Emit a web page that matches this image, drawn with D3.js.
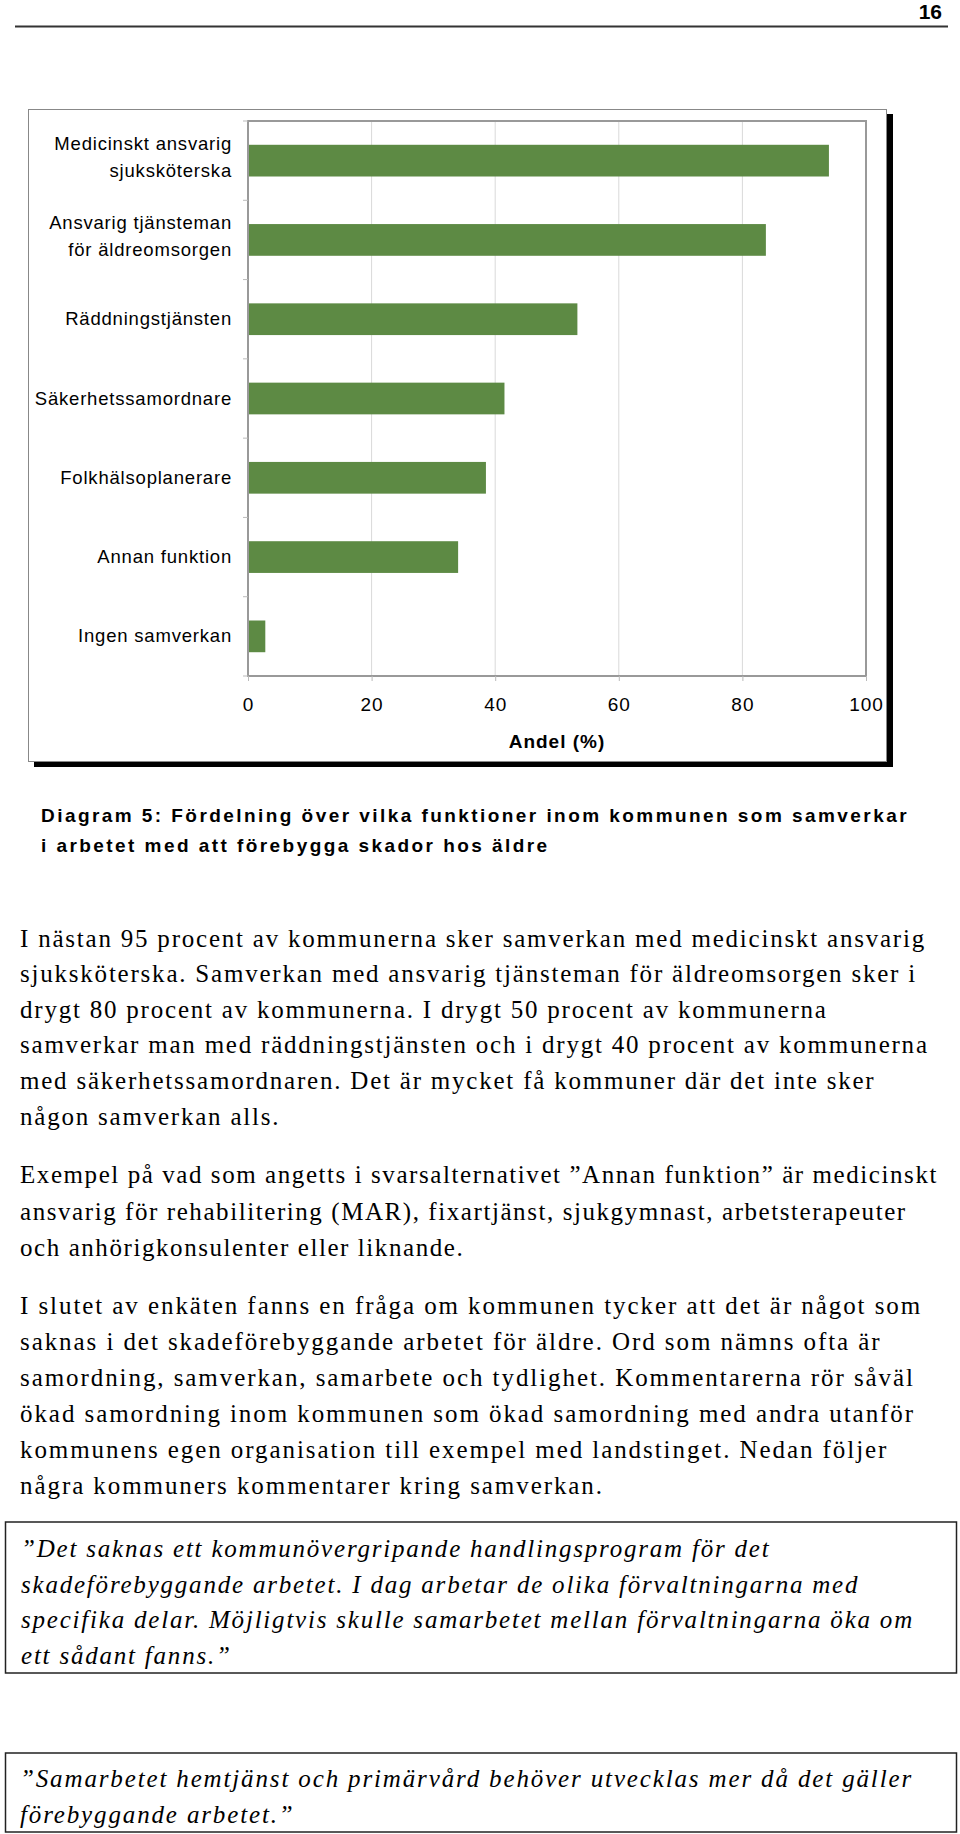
<!DOCTYPE html>
<html>
<head>
<meta charset="utf-8">
<script src="https://cdn.jsdelivr.net/npm/d3@7"></script>
<style>
  body { margin: 0; background: #fff; }
  svg { display: block; }
</style>
</head>
<body>
<svg id="page" width="960" height="1834"></svg>
<script>
// chart data
let categories = ['Medicinskt ansvarig sjuksköterska', 'Ansvarig tjänsteman för äldreomsorgen',
  'Räddningstjänsten', 'Säkerhetssamordnare', 'Folkhälsoplanerare', 'Annan funktion', 'Ingen samverkan']
let labelLines = [['Medicinskt ansvarig', 'sjuksköterska'], ['Ansvarig tjänsteman', 'för äldreomsorgen'],
  ['Räddningstjänsten'], ['Säkerhetssamordnare'], ['Folkhälsoplanerare'], ['Annan funktion'], ['Ingen samverkan']]
let values = [94.0, 83.8, 53.3, 41.5, 38.5, 34.0, 2.8]
let xTicks = [0, 20, 40, 60, 80, 100]
let xTitle = 'Andel (%)'

// page text
let pageNumber = '16'
let caption = ['Diagram 5: Fördelning över vilka funktioner inom kommunen som samverkar',
  'i arbetet med att förebygga skador hos äldre']
let para1 = ['I nästan 95 procent av kommunerna sker samverkan med medicinskt ansvarig',
  'sjuksköterska. Samverkan med ansvarig tjänsteman för äldreomsorgen sker i',
  'drygt 80 procent av kommunerna. I drygt 50 procent av kommunerna',
  'samverkar man med räddningstjänsten och i drygt 40 procent av kommunerna',
  'med säkerhetssamordnaren. Det är mycket få kommuner där det inte sker',
  'någon samverkan alls.']
let para2 = ['Exempel på vad som angetts i svarsalternativet ”Annan funktion” är medicinskt',
  'ansvarig för rehabilitering (MAR), fixartjänst, sjukgymnast, arbetsterapeuter',
  'och anhörigkonsulenter eller liknande.']
let para3 = ['I slutet av enkäten fanns en fråga om kommunen tycker att det är något som',
  'saknas i det skadeförebyggande arbetet för äldre. Ord som nämns ofta är',
  'samordning, samverkan, samarbete och tydlighet. Kommentarerna rör såväl',
  'ökad samordning inom kommunen som ökad samordning med andra utanför',
  'kommunens egen organisation till exempel med landstinget. Nedan följer',
  'några kommuners kommentarer kring samverkan.']
let quote1 = ['”Det saknas ett kommunövergripande handlingsprogram för det',
  'skadeförebyggande arbetet. I dag arbetar de olika förvaltningarna med',
  'specifika delar. Möjligtvis skulle samarbetet mellan förvaltningarna öka om',
  'ett sådant fanns.”']
let quote2 = ['”Samarbetet hemtjänst och primärvård behöver utvecklas mer då det gäller',
  'förebyggande arbetet.”']

let svg = d3.select('#page')
let sans = '"Liberation Sans", Arial, sans-serif'
let serif = '"Liberation Serif", "Times New Roman", serif'

// header
svg.append('text')
  .attr('x', 942).attr('y', 19)
  .attr('text-anchor', 'end')
  .style('font-family', sans).style('font-weight', 'bold').style('font-size', '21px')
  .text(pageNumber)
svg.append('line')
  .attr('x1', 15).attr('x2', 948).attr('y1', 26.5).attr('y2', 26.5)
  .attr('stroke', '#333').attr('stroke-width', 2)

// chart frame with shadow
svg.append('rect').attr('x', 34).attr('y', 114).attr('width', 859).attr('height', 653).attr('fill', '#000')
svg.append('rect').attr('x', 28.5).attr('y', 109.5).attr('width', 858).attr('height', 652)
  .attr('fill', '#fff').attr('stroke', '#888').attr('stroke-width', 1)

let plot = { left: 248, right: 866, top: 121, bottom: 676 }

let x = d3.scaleLinear().domain([0, 100]).range([plot.left, plot.right])
let y = d3.scaleBand().domain(categories).range([plot.top, plot.bottom])
  .paddingInner(0.6).paddingOuter(0.3)

// gridlines
svg.append('g')
  .selectAll('line')
  .data(xTicks.slice(1, -1))
  .enter()
  .append('line')
  .attr('x1', d => x(d)).attr('x2', d => x(d))
  .attr('y1', plot.top).attr('y2', plot.bottom)
  .attr('stroke', '#d9d9d9').attr('stroke-width', 1)

// bars
svg.append('g')
  .selectAll('rect')
  .data(values)
  .enter()
  .append('rect')
  .attr('x', x(0))
  .attr('y', (d, i) => y(categories[i]))
  .attr('width', d => x(d) - x(0))
  .attr('height', y.bandwidth())
  .attr('fill', '#5d8a44')

// plot border
svg.append('rect')
  .attr('x', plot.left).attr('y', plot.top)
  .attr('width', plot.right - plot.left).attr('height', plot.bottom - plot.top)
  .attr('fill', 'none').attr('stroke', '#999').attr('stroke-width', 2)

// left ticks at band boundaries
let gap = (y.step() - y.bandwidth()) / 2
let bounds = categories.map(c => y(c) - gap).concat([plot.bottom])
svg.append('g')
  .selectAll('line')
  .data(bounds)
  .enter()
  .append('line')
  .attr('x1', plot.left - 5).attr('x2', plot.left)
  .attr('y1', d => d).attr('y2', d => d)
  .attr('stroke', '#bbb').attr('stroke-width', 1)

// bottom axis
let xAxis = d3.axisBottom(x).tickValues(xTicks).tickSize(5).tickSizeOuter(0).tickPadding(17)
let gx = svg.append('g').attr('transform', 'translate(0,' + plot.bottom + ')').call(xAxis)
gx.select('.domain').remove()
gx.selectAll('.tick line').attr('stroke', '#bbb')
gx.selectAll('.tick text')
  .style('font-family', sans).style('font-size', '19px').style('letter-spacing', '1px')
  .attr('fill', '#000')

svg.append('text')
  .attr('x', (plot.left + plot.right) / 2).attr('y', 748)
  .attr('text-anchor', 'middle')
  .style('font-family', sans).style('font-weight', 'bold').style('font-size', '19px')
  .style('letter-spacing', '1px')
  .text(xTitle)

// category labels
let labels = svg.append('g')
  .selectAll('text')
  .data(labelLines)
  .enter()
  .append('text')
  .attr('text-anchor', 'end')
  .style('font-family', sans).style('font-size', '18.5px').style('letter-spacing', '0.8px')
  .attr('transform', (d, i) => 'translate(232,' + (y(categories[i]) + y.bandwidth() / 2) + ')')

labels.selectAll('tspan')
  .data(d => d.map(t => ({ t: t, n: d.length })))
  .enter()
  .append('tspan')
  .attr('x', 0)
  .attr('y', (d, i) => d.n === 1 ? 6 : (i === 0 ? -11 : 16))
  .text(d => d.t)

// text blocks
let blocks = [
  { lines: caption, x: 41, y: 822, dy: 30, family: sans, size: 19, weight: 'bold', style: 'normal', ref: 0, width: 868 },
  { lines: para1, x: 20, y: 946.5, dy: 35.6, family: serif, size: 25, weight: 'normal', style: 'normal', ref: 0, width: 906 },
  { lines: para2, x: 20, y: 1183, dy: 36.5, family: serif, size: 25, weight: 'normal', style: 'normal', ref: 0, width: 918 },
  { lines: para3, x: 20, y: 1314, dy: 36, family: serif, size: 25, weight: 'normal', style: 'normal', ref: 3, width: 895 },
  { lines: quote1, x: 21, y: 1557, dy: 35.7, family: serif, size: 25, weight: 'normal', style: 'italic', ref: 2, width: 893 },
  { lines: quote2, x: 20, y: 1787, dy: 36, family: serif, size: 25, weight: 'normal', style: 'italic', ref: 0, width: 893 }
]

// quote boxes
svg.append('rect').attr('x', 5.5).attr('y', 1522).attr('width', 951).attr('height', 151)
  .attr('fill', 'none').attr('stroke', '#222').attr('stroke-width', 1.5)
svg.append('rect').attr('x', 5.5).attr('y', 1753).attr('width', 951).attr('height', 79)
  .attr('fill', 'none').attr('stroke', '#222').attr('stroke-width', 1.5)

blocks.forEach(b => {
  let t = svg.append('g')
    .selectAll('text')
    .data(b.lines)
    .enter()
    .append('text')
    .attr('x', b.x)
    .attr('y', (d, i) => b.y + i * b.dy)
    .style('font-family', b.family)
    .style('font-size', b.size + 'px')
    .style('font-weight', b.weight)
    .style('font-style', b.style)
    .attr('fill', '#000')
    .text(d => d)

  // spread letters so the reference line fills its measured width
  let node = t.nodes()[b.ref]
  let natural = node.getComputedTextLength()
  let spacing = (b.width - natural) / node.textContent.length
  t.style('letter-spacing', spacing + 'px')
})
</script>
</body>
</html>
